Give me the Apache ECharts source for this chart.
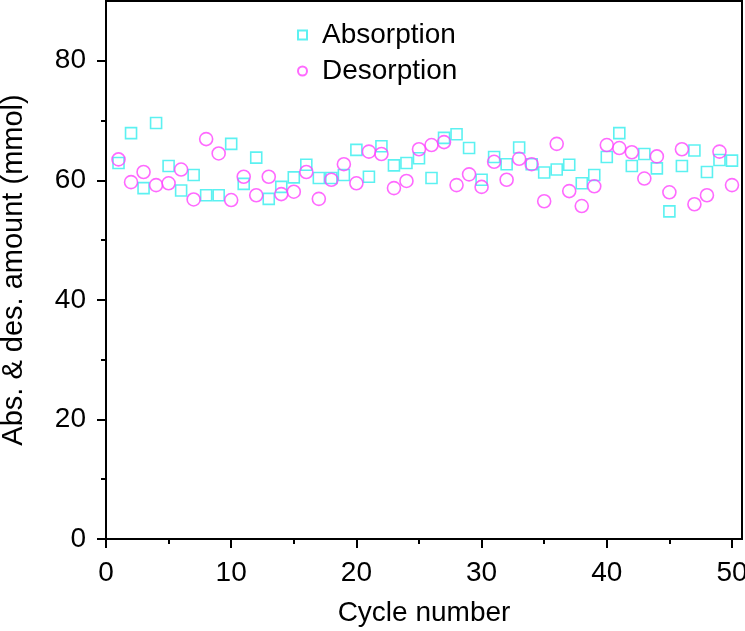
<!DOCTYPE html>
<html>
<head>
<meta charset="utf-8">
<script src="https://cdn.jsdelivr.net/npm/echarts@6/dist/echarts.min.js"></script>
<style>html,body{margin:0;padding:0;background:#fff}#c{width:745px;height:631px}</style>
</head>
<body>
<div id="c"></div>
<script>
const cycles = [1,2,3,4,5,6,7,8,9,10,11,12,13,14,15,16,17,18,19,20,21,22,23,24,25,26,27,28,29,30,31,32,33,34,35,36,37,38,39,40,41,42,43,44,45,46,47,48,49,50];
const absorption = [62.9,67.9,58.7,69.6,62.4,58.3,60.9,57.5,57.5,66.1,
  59.4,63.8,56.9,58.9,60.5,62.6,60.4,60.4,60.9,65.1,
  60.6,65.7,62.5,62.9,63.7,60.4,67.1,67.7,65.4,60.1,
  63.9,62.7,65.5,62.7,61.3,61.8,62.6,59.5,60.9,63.9,
  67.9,62.4,64.4,62.0,54.8,62.4,65.0,61.4,63.4,63.3];
const desorption = [63.5,59.7,61.4,59.2,59.5,61.8,56.8,66.9,64.5,56.7,
  60.6,57.5,60.6,57.7,58.1,61.4,56.9,60.1,62.7,59.5,
  64.8,64.4,58.7,59.9,65.2,65.9,66.4,59.2,61.0,58.9,
  63.1,60.1,63.6,62.7,56.5,66.1,58.2,55.7,59.0,65.9,
  65.4,64.7,60.3,64.0,58.0,65.2,56.0,57.5,64.8,59.2];
const xMajor = [0,10,20,30,40,50];
const xMinor = [5,15,25,35,45];
const yMajor = [0,20,40,60,80];
const yMinor = [10,30,50,70];

const FONT = '"Liberation Sans", Arial, sans-serif';
const chart = echarts.init(document.getElementById('c'));
const pair = (xs, ys) => xs.map((x, i) => [x, ys[i]]);
const baseX = {type:'value', min:0, max:50.8, interval:10};
const baseY = {type:'value', min:0, max:90, interval:10};
chart.setOption({
  animation:false,
  grid:{left:106, right:3, top:1, bottom:92, show:true, borderColor:'#000', borderWidth:2,
    containLabel:false, outerBoundsMode:'none'},
  legend:{
    orient:'vertical', left:292, top:15, itemWidth:9, itemHeight:9, itemGap:6,
    textStyle:{fontFamily:FONT, fontSize:28, color:'#000', lineHeight:30, padding:[0,0,0,10]},
    data:[{name:'Absorption', icon:'rect'},{name:'Desorption', icon:'circle'}]
  },
  xAxis:[
    Object.assign({}, baseX, {
      name:'Cycle number', nameLocation:'middle', nameGap:60,
      nameTextStyle:{fontFamily:FONT, fontSize:28, color:'#000'},
      axisLine:{show:true, onZero:false, lineStyle:{color:'#000', width:2}},
      axisTick:{show:true, inside:false, length:9, customValues:xMajor, lineStyle:{color:'#000', width:2}},
      axisLabel:{show:true, margin:20, customValues:xMajor, fontFamily:FONT, fontSize:28, color:'#000'},
      splitLine:{show:false}
    }),
    Object.assign({}, baseX, {
      position:'bottom',
      axisLine:{show:false},
      axisTick:{show:true, inside:false, length:5, customValues:xMinor, lineStyle:{color:'#000', width:2}},
      axisLabel:{show:false}, splitLine:{show:false}
    })
  ],
  yAxis:[
    Object.assign({}, baseY, {
      name:'Abs. & des. amount (mmol)', nameLocation:'middle', nameGap:78,
      nameTextStyle:{fontFamily:FONT, fontSize:29, color:'#000'},
      axisLine:{show:true, onZero:false, lineStyle:{color:'#000', width:2}},
      axisTick:{show:true, inside:false, length:9, customValues:yMajor, lineStyle:{color:'#000', width:2}},
      axisLabel:{show:true, margin:20, customValues:yMajor, fontFamily:FONT, fontSize:28, color:'#000'},
      splitLine:{show:false}
    }),
    Object.assign({}, baseY, {
      position:'left',
      axisLine:{show:false},
      axisTick:{show:true, inside:false, length:5, customValues:yMinor, lineStyle:{color:'#000', width:2}},
      axisLabel:{show:false}, splitLine:{show:false}
    })
  ],
  series:[
    {name:'Absorption', type:'scatter', symbol:'rect', symbolSize:11,
      itemStyle:{color:'rgba(0,0,0,0)', borderColor:'#33eeee', borderWidth:1.6},
      data:pair(cycles, absorption)},
    {name:'Desorption', type:'scatter', symbol:'circle', symbolSize:13,
      itemStyle:{color:'rgba(0,0,0,0)', borderColor:'#ff44ff', borderWidth:1.6},
      data:pair(cycles, desorption)}
  ]
});
</script>
</body>
</html>
